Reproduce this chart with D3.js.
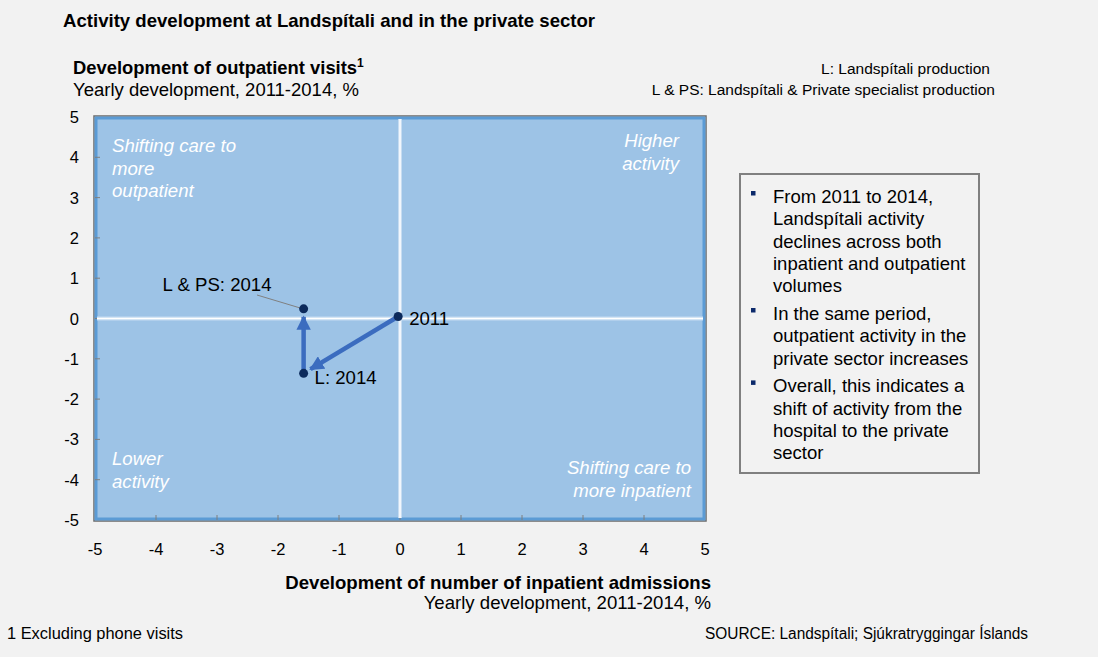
<!DOCTYPE html>
<html>
<head>
<meta charset="utf-8">
<script src="https://cdn.jsdelivr.net/npm/d3@7"></script>
<style>
  body { margin: 0; background: #f2f2f2; }
  svg text { font-family: "Liberation Sans", Arial, sans-serif; fill: #000; }
</style>
</head>
<body>
<div id="chart"></div>
<script>
(function() {
  // data points (x: inpatient admissions %, y: outpatient visits %)
  var pointNames = ["2011", "L: 2014", "L & PS: 2014"];
  var pointX = [-0.03, -1.58, -1.58];
  var pointY = [0.05, -1.36, 0.24];
  var arrowFrom = [0, 1];
  var arrowTo = [1, 2];
  var xTicks = [-5, -4, -3, -2, -1, 0, 1, 2, 3, 4, 5];
  var yTicks = [-5, -4, -3, -2, -1, 0, 1, 2, 3, 4, 5];
  var bullets = [
    ["From 2011 to 2014,", "Landspítali activity", "declines across both", "inpatient and outpatient", "volumes"],
    ["In the same period,", "outpatient activity in the", "private sector increases"],
    ["Overall, this indicates a", "shift of activity from the", "hospital to the private", "sector"]
  ];

  var W = 1098, H = 657;
  var svg = d3.select("#chart").append("svg")
    .attr("width", W).attr("height", H);

  svg.append("rect").attr("width", W).attr("height", H).attr("fill", "#f2f2f2");

  var x = d3.scaleLinear().domain([-5, 5]).range([95, 705]);
  var y = d3.scaleLinear().domain([-5, 5]).range([520, 117]);

  // titles
  svg.append("text").attr("x", 63).attr("y", 27)
    .style("font-size", "18.6px").style("font-weight", "bold")
    .text("Activity development at Landspítali and in the private sector");

  var t1 = svg.append("text").attr("x", 73).attr("y", 74)
    .style("font-size", "18.4px").style("font-weight", "bold")
    .text("Development of outpatient visits");
  t1.append("tspan").attr("dy", -7).style("font-size", "12px").text("1");
  svg.append("text").attr("x", 73).attr("y", 96)
    .style("font-size", "18.5px").text("Yearly development, 2011-2014, %");

  svg.append("text").attr("x", 990).attr("y", 74).attr("text-anchor", "end")
    .style("font-size", "15.5px").text("L: Landspítali production");
  svg.append("text").attr("x", 995).attr("y", 95).attr("text-anchor", "end")
    .style("font-size", "15.5px").text("L & PS: Landspítali & Private specialist production");

  // panel
  svg.append("rect")
    .attr("x", x(-5) - 1).attr("y", y(5) - 1)
    .attr("width", x(5) - x(-5) + 2).attr("height", y(-5) - y(5) + 2)
    .attr("fill", "none").attr("stroke", "#6b6b6b").attr("stroke-width", 1.5);
  svg.append("rect")
    .attr("x", x(-5) + 1).attr("y", y(5) + 1)
    .attr("width", x(5) - x(-5) - 2).attr("height", y(-5) - y(5) - 2)
    .attr("fill", "#9dc3e6").attr("stroke", "#5b9bd5").attr("stroke-width", 3);

  // ticks inside panel
  svg.selectAll(".xt").data(xTicks.slice(1, -1)).enter().append("line")
    .attr("x1", function(d) { return x(d); }).attr("x2", function(d) { return x(d); })
    .attr("y1", y(-5)).attr("y2", y(-5) - 5)
    .attr("stroke", "#7f7f7f").attr("stroke-width", 1);
  svg.selectAll(".yt").data(yTicks.slice(1, -1)).enter().append("line")
    .attr("x1", x(-5)).attr("x2", x(-5) + 5)
    .attr("y1", function(d) { return y(d); }).attr("y2", function(d) { return y(d); })
    .attr("stroke", "#7f7f7f").attr("stroke-width", 1);

  // crosshair
  ["v", "h"].forEach(function(o) {
    var v = o === "v";
    [["#c6dcf1", 4], ["#ffffff", 1.5]].forEach(function(s) {
      svg.append("line")
        .attr("x1", v ? x(0) : x(-5) + 2).attr("x2", v ? x(0) : x(5) - 2)
        .attr("y1", v ? y(5) + 2 : y(0)).attr("y2", v ? y(-5) - 2 : y(0))
        .attr("stroke", s[0]).attr("stroke-width", s[1]);
    });
  });

  // tick labels
  svg.selectAll(".xl").data(xTicks).enter().append("text")
    .attr("x", function(d) { return x(d); }).attr("y", 555)
    .attr("text-anchor", "middle").style("font-size", "16.5px")
    .text(function(d) { return d; });
  svg.selectAll(".yl").data(yTicks).enter().append("text")
    .attr("x", 79).attr("y", function(d) { return y(d) + 6; })
    .attr("text-anchor", "end").style("font-size", "16.5px")
    .text(function(d) { return d; });

  // x axis title
  svg.append("text").attr("x", 711).attr("y", 589).attr("text-anchor", "end")
    .style("font-size", "18.6px").style("font-weight", "bold")
    .text("Development of number of inpatient admissions");
  svg.append("text").attr("x", 711).attr("y", 609).attr("text-anchor", "end")
    .style("font-size", "18.6px").text("Yearly development, 2011-2014, %");

  // quadrant labels
  var quad = [
    {lines: ["Shifting care to", "more", "outpatient"], x: 112, y: 152, a: "start"},
    {lines: ["Higher", "activity"], x: 679, y: 147, a: "end"},
    {lines: ["Lower", "activity"], x: 112, y: 465, a: "start"},
    {lines: ["Shifting care to", "more inpatient"], x: 691, y: 474, a: "end"}
  ];
  quad.forEach(function(q) {
    var t = svg.append("text").attr("text-anchor", q.a)
      .style("font-size", "18.6px").style("font-style", "italic").style("fill", "#ffffff");
    q.lines.forEach(function(l, i) {
      t.append("tspan").attr("x", q.x).attr("y", q.y + i * 22.5).style("fill", "#ffffff").text(l);
    });
  });

  // arrows
  svg.append("defs").append("marker")
    .attr("id", "ah").attr("viewBox", "0 0 10 10")
    .attr("refX", 9).attr("refY", 5)
    .attr("markerWidth", 3.2).attr("markerHeight", 3.2)
    .attr("orient", "auto")
    .append("path").attr("d", "M0,0 L10,5 L0,10 Z").attr("fill", "#3b6cbf");

  arrowFrom.forEach(function(f, i) {
    var x1 = x(pointX[f]), y1 = y(pointY[f]);
    var x2 = x(pointX[arrowTo[i]]), y2 = y(pointY[arrowTo[i]]);
    var len = Math.sqrt((x2 - x1) * (x2 - x1) + (y2 - y1) * (y2 - y1));
    var k = (len - 8) / len;
    svg.append("line")
      .attr("x1", x1).attr("y1", y1)
      .attr("x2", x1 + (x2 - x1) * k).attr("y2", y1 + (y2 - y1) * k)
      .attr("stroke", "#3b6cbf").attr("stroke-width", 4.5)
      .attr("marker-end", "url(#ah)");
  });

  // leader line for L & PS label
  svg.append("line")
    .attr("x1", 257).attr("y1", 295)
    .attr("x2", x(pointX[2]) - 4).attr("y2", y(pointY[2]) - 1)
    .attr("stroke", "#808080").attr("stroke-width", 1);

  // points
  svg.selectAll(".pt").data(pointNames).enter().append("circle")
    .attr("cx", function(d, i) { return x(pointX[i]); })
    .attr("cy", function(d, i) { return y(pointY[i]); })
    .attr("r", 4.5).attr("fill", "#0c2a5c");

  var labelPos = [[11, 9], [11, 11], [-141, -18]];
  svg.selectAll(".pl").data(pointNames).enter().append("text")
    .attr("x", function(d, i) { return x(pointX[i]) + labelPos[i][0]; })
    .attr("y", function(d, i) { return y(pointY[i]) + labelPos[i][1]; })
    .style("font-size", "18.6px")
    .text(function(d) { return d; });

  // text box
  svg.append("rect").attr("x", 740).attr("y", 174).attr("width", 239).attr("height", 299)
    .attr("fill", "none").attr("stroke", "#808080").attr("stroke-width", 2);
  var ty = 203;
  bullets.forEach(function(b) {
    svg.append("rect").attr("x", 751).attr("y", ty - 12).attr("width", 4.5).attr("height", 4.5)
      .attr("fill", "#0c2a6b");
    b.forEach(function(l) {
      svg.append("text").attr("x", 773).attr("y", ty).style("font-size", "18.5px").text(l);
      ty += 22.3;
    });
    ty += 5.5;
  });

  // footer
  svg.append("text").attr("x", 7).attr("y", 639)
    .attr("textLength", 176).attr("lengthAdjust", "spacingAndGlyphs")
    .style("font-size", "16px")
    .text("1 Excluding phone visits");
  svg.append("text").attr("x", 705).attr("y", 639)
    .attr("textLength", 323).attr("lengthAdjust", "spacingAndGlyphs")
    .style("font-size", "16px")
    .text("SOURCE: Landspítali; Sjúkratryggingar Íslands");
})();
</script>
</body>
</html>
